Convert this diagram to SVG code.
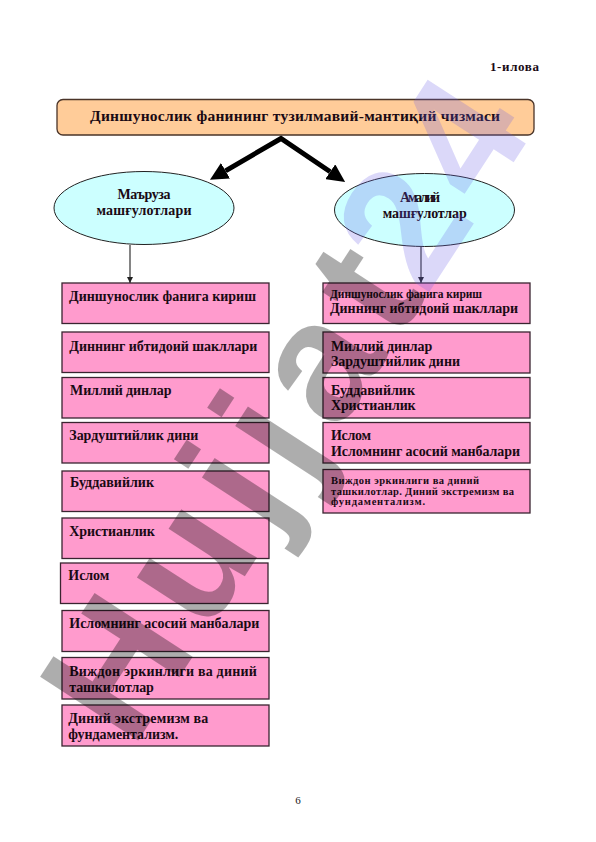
<svg xmlns="http://www.w3.org/2000/svg" width="596" height="842" viewBox="0 0 596 842">
  <style>
    .t{font-family:"Liberation Serif","Times New Roman",serif;font-weight:bold;fill:#1a0a14}
    .b{font-size:14px}
    .s{font-size:11.5px}
    .xs{font-size:10.5px}
    .box{fill:#FF9BCD;stroke:#3a2430;stroke-width:1.3}
    .ell{fill:#CCFFFF;stroke:#222;stroke-width:1}
    .wm{font-family:"Liberation Sans",Arial,sans-serif;font-weight:bold;font-size:170px}
    .g{fill:#000;fill-opacity:0.32}
    .v{fill:#6a5ae8;fill-opacity:0.24}
  </style>
  <defs>
    <marker id="big" viewBox="0 0 18 18" markerUnits="userSpaceOnUse" markerWidth="18" markerHeight="18" refX="0" refY="9" orient="auto-start-reverse">
      <path d="M0,0 L18,9 L0,18 z" fill="#000"/>
    </marker>
    <marker id="small" viewBox="0 0 6 6" markerUnits="userSpaceOnUse" markerWidth="6" markerHeight="6" refX="6" refY="3" orient="auto">
      <path d="M0,0 L6,3 L0,6 z" fill="#222"/>
    </marker>
  </defs>
  <rect width="596" height="842" fill="#fff"/>

  <text class="t" x="539" y="71" font-size="13" text-anchor="end" textLength="49">1-илова</text>

  <g id="title">
    <rect x="57" y="99.5" width="477" height="35.5" rx="6" fill="#FFCC99" stroke="#4a3428" stroke-width="1.3"/>
    <text class="t" x="295" y="121" font-size="15.5" text-anchor="middle" textLength="410">Диншунослик фанининг тузилмавий-мантиқий чизмаси</text>
  </g>

  <g id="lecture">
    <ellipse class="ell" cx="144" cy="208" rx="90" ry="36.5"/>
    <text class="t b" x="144" y="199" text-anchor="middle" textLength="53">Маъруза</text>
    <text class="t b" x="144" y="215" text-anchor="middle" textLength="95">машғулотлари</text>
  </g>
  <g id="practice">
    <ellipse class="ell" cx="424.5" cy="210" rx="90" ry="36.5"/>
    <text class="t b" x="420" y="201.5" text-anchor="middle" textLength="40">Амалий</text>
    <text class="t b" x="424.7" y="218" text-anchor="middle" textLength="84">машғулотлар</text>
  </g>

  <g id="left1"><rect class="box" x="62" y="283" width="207" height="40.5"/><text class="t b" x="69" y="301" textLength="187">Диншунослик фанига кириш</text></g>
  <g id="left2"><rect class="box" x="62" y="332" width="207" height="40.5"/><text class="t b" x="69.3" y="350.5" textLength="188">Диннинг ибтидоий шакллари</text></g>
  <g id="left3"><rect class="box" x="62" y="377.5" width="207" height="40.5"/><text class="t b" x="70" y="395" textLength="101.5">Миллий динлар</text></g>
  <g id="left4"><rect class="box" x="62" y="422.5" width="207" height="40.5"/><text class="t b" x="69.3" y="439.5" textLength="129">Зардуштийлик дини</text></g>
  <g id="left5"><rect class="box" x="62" y="471" width="207" height="40.5"/><text class="t b" x="70" y="487" textLength="84">Буддавийлик</text></g>
  <g id="left6"><rect class="box" x="62" y="518" width="207" height="40.5"/><text class="t b" x="69.3" y="536" textLength="85.5">Христианлик</text></g>
  <g id="left7"><rect class="box" x="60.5" y="563" width="207.5" height="40.5"/><text class="t b" x="68.3" y="580" textLength="41">Ислом</text></g>
  <g id="left8"><rect class="box" x="62" y="610.5" width="207" height="41"/><text class="t b" x="69.3" y="628" textLength="190">Исломнинг асосий манбалари</text></g>
  <g id="left9"><rect class="box" x="62" y="657.5" width="207" height="41.5"/><text class="t b" x="69.3" y="676" textLength="187.5">Виждон эркинлиги ва диний</text><text class="t b" x="69.3" y="691.5" textLength="84.5">ташкилотлар</text></g>
  <g id="left10"><rect class="box" x="62" y="705" width="207" height="41"/><text class="t b" x="68.3" y="723" textLength="140">Диний экстремизм ва</text><text class="t b" x="68.3" y="739" textLength="110">фундаментализм.</text></g>

  <g id="right1"><rect class="box" x="323" y="283" width="207" height="40.5"/><text class="t s" x="330" y="297.5" textLength="152">Диншунослик фанига кириш</text><text class="t b" x="330" y="312.5" textLength="188">Диннинг ибтидоий шакллари</text></g>
  <g id="right2"><rect class="box" x="323" y="332" width="207" height="41"/><text class="t b" x="331" y="350.5" textLength="101.3">Миллий динлар</text><text class="t b" x="331" y="365.5" textLength="129">Зардуштийлик дини</text></g>
  <g id="right3"><rect class="box" x="323" y="377.5" width="207" height="40.5"/><text class="t b" x="331" y="395" textLength="84">Буддавийлик</text><text class="t b" x="331" y="410" textLength="84.7">Христианлик</text></g>
  <g id="right4"><rect class="box" x="323" y="422.5" width="207" height="40.5"/><text class="t b" x="331" y="440" textLength="40">Ислом</text><text class="t b" x="331" y="455.5" textLength="189">Исломнинг асосий манбалари</text></g>
  <g id="right5"><rect class="box" x="323" y="469.5" width="207" height="43.5"/><text class="t xs" x="331" y="483.5" textLength="148">Виждон эркинлиги ва диний</text><text class="t xs" x="331" y="494.5" textLength="183">ташкилотлар. Диний экстремизм ва</text><text class="t xs" x="331" y="505" textLength="94">фундаментализм.</text></g>

  <g id="connectors">
    <path d="M225.5,170.8 L281,138.5 L330.2,171.8" fill="none" stroke="#000" stroke-width="5" marker-start="url(#big)" marker-end="url(#big)"/>
    <path d="M130,245 L130,283" fill="none" stroke="#333" stroke-width="1.2" marker-end="url(#small)"/>
    <path d="M421,247 L421,283" fill="none" stroke="#333" stroke-width="1.2" marker-end="url(#small)"/>
  </g>

  <g id="watermark" class="wm" transform="translate(132,750) rotate(-57)">
    <text class="g" x="0" y="0">H</text>
    <text class="g" x="136.7" y="0">u</text>
    <text class="g" x="254.6" y="0">j</text>
    <text class="g" x="315.9" y="0">j</text>
    <text class="g" x="377.2" y="0">a</text>
    <text class="g" x="485.7" y="0">t</text>
    <text class="v" x="540" y="0">2</text>
    <text class="v" x="645" y="0">4</text>
  </g>

  <text x="298" y="804" font-family="Liberation Serif, serif" font-size="11" text-anchor="middle" fill="#222">6</text>
</svg>
